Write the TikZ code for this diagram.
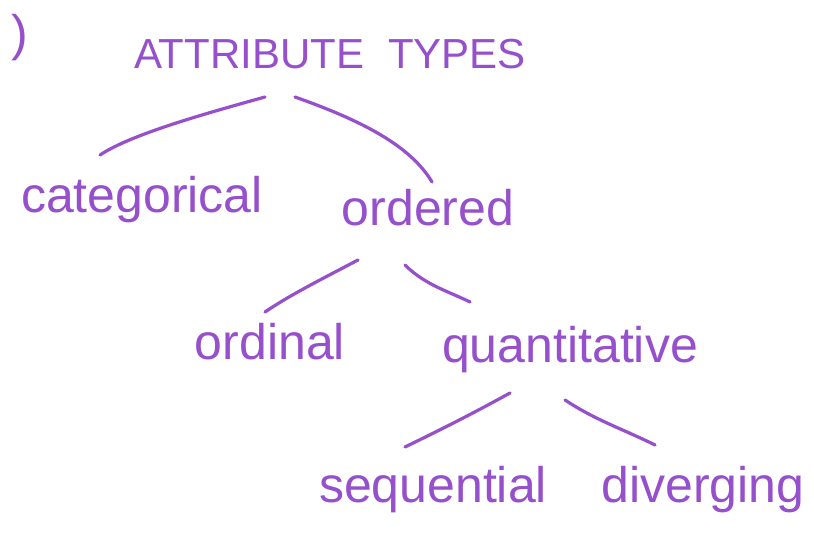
\documentclass[tikz,border=0pt]{standalone}
\usepackage{fontspec}
\setmainfont{Liberation Sans}
\definecolor{ink}{RGB}{150,80,204}
\begin{document}
\begin{tikzpicture}[x=1pt,y=-1pt,
  label/.style={text=ink,inner sep=0pt,font=\fontsize{50}{58}\selectfont},
  title/.style={text=ink,inner sep=0pt,font=\fontsize{42}{50}\selectfont},
  branch/.style={draw=ink,line width=3.2pt,line cap=round}]
\useasboundingbox[fill=white] (0,0) rectangle (814,548);
\node[title,font=\fontsize{50}{58}\selectfont] (paren) at (20,38) {)};
\node[title] (title) at (330,54) {ATTRIBUTE\hspace{24pt}TYPES};
\node[label] (cat) at (142,200) {categorical};
\node[label] (ord) at (428,208) {ordered};
\node[label] (ordinal) at (270,342) {ordinal};
\node[label] (quant) at (570,350) {quantitative};
\node[label] (seq) at (433,490) {sequential};
\node[label] (div) at (703,490) {diverging};
% connector end points
\coordinate (t1) at (265,97); \coordinate (c1) at (100,155);
\coordinate (t2) at (295,97); \coordinate (o1) at (432,182);
\coordinate (o2) at (358,260); \coordinate (n1) at (265,312);
\coordinate (o3) at (405,265); \coordinate (q1) at (470,302);
\coordinate (q2) at (510,393); \coordinate (s1) at (405,447);
\coordinate (q3) at (565,400); \coordinate (d1) at (655,445);
\draw[branch] (t1) .. controls (200,115) and (130,135) .. (c1);
\draw[branch] (t2) .. controls (360,120) and (410,145) .. (o1);
\draw[branch] (o2) .. controls (320,280) and (290,295) .. (n1);
\draw[branch] (o3) .. controls (425,285) and (450,292) .. (q1);
\draw[branch] (q2) .. controls (470,415) and (440,430) .. (s1);
\draw[branch] (q3) .. controls (595,420) and (625,430) .. (d1);
\end{tikzpicture}
\end{document}
